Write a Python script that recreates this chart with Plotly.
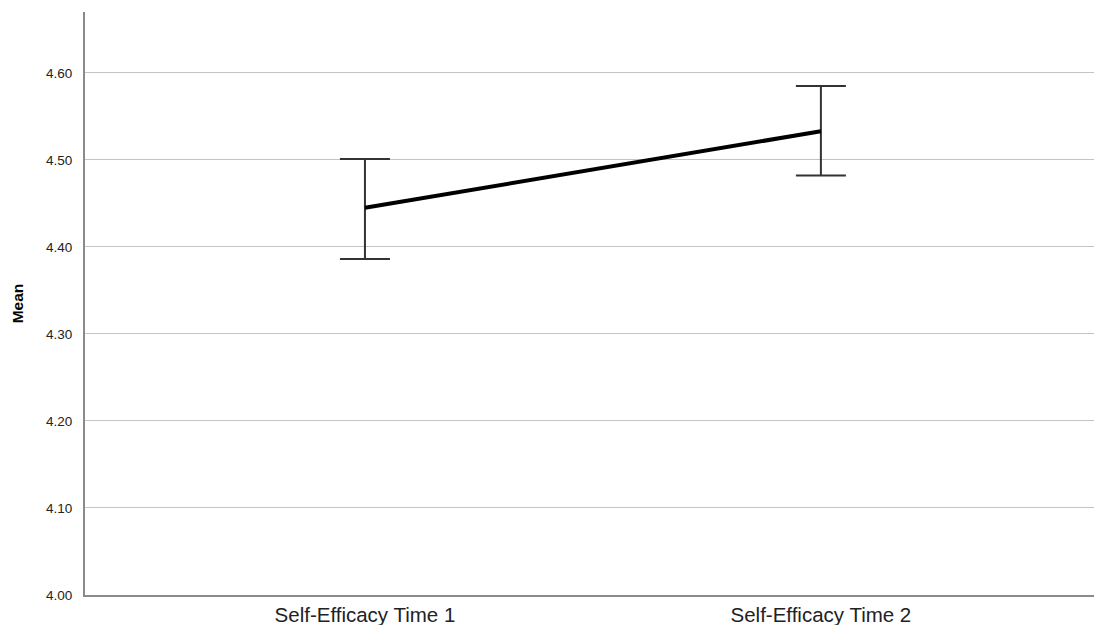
import plotly.graph_objects as go

categories = ["Self-Efficacy Time 1", "Self-Efficacy Time 2"]
means = [4.445, 4.533]
upper = [4.501, 4.585]
lower = [4.386, 4.482]
y_ticks = [4.00, 4.10, 4.20, 4.30, 4.40, 4.50, 4.60]

err_plus = [u - m for u, m in zip(upper, means)]
err_minus = [m - l for m, l in zip(means, lower)]

fig = go.Figure()
fig.add_trace(go.Scatter(
    x=[0, 1], y=means, mode="lines",
    line=dict(color="black", width=4),
    error_y=dict(type="data", array=err_plus, arrayminus=err_minus,
                 color="#333333", thickness=2, width=25),
    showlegend=False, hoverinfo="skip"))

fig.update_layout(
    width=1094, height=625,
    margin=dict(l=85, r=0, t=12, b=30),
    paper_bgcolor="white", plot_bgcolor="white",
    font=dict(family="Liberation Sans, Arial, sans-serif", color="black"),
    xaxis=dict(range=[-0.614, 1.599], tickvals=[0, 1], ticktext=categories,
               showgrid=False, zeroline=False, showline=True,
               linecolor="#8a8a8a", linewidth=2, ticks="",
               tickfont=dict(size=20.5, color="#222")),
    yaxis=dict(range=[4.0, 4.67], tickvals=y_ticks,
               ticktext=[f"{v:.2f}" for v in y_ticks],
               showgrid=True, gridcolor="#c4c4c4", gridwidth=1,
               zeroline=False, showline=True, linecolor="#8a8a8a", linewidth=2,
               ticks="", ticklabelstandoff=8,
               tickfont=dict(size=13.5, color="#222"),
               title=dict(text="<b>Mean</b>", font=dict(size=15.5), standoff=19)),
)

fig.write_html("out.html", config={"displayModeBar": False},
               post_script="document.body.style.margin='0';document.body.style.overflow='hidden';")
